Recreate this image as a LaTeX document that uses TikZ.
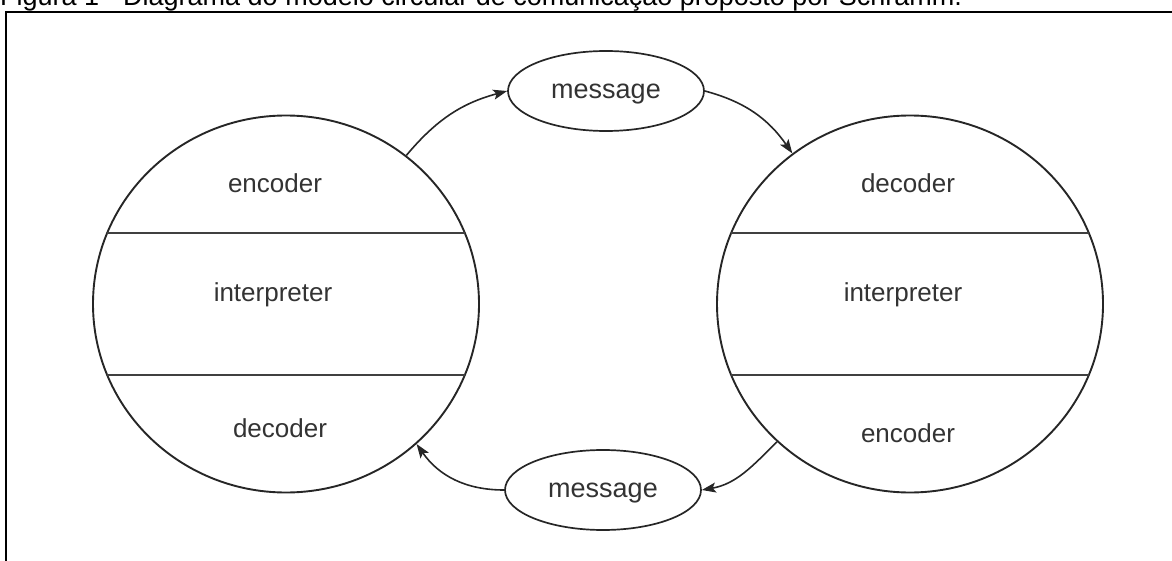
\documentclass[tikz,border=0pt]{standalone}
\usepackage{fontspec}
\setmainfont{Liberation Sans}
\usetikzlibrary{arrows.meta,shapes.geometric,calc}

\begin{document}
\begin{tikzpicture}[x=1pt,y=1pt,
  party/.style={draw=black!85, line width=1.9pt, ellipse, minimum width=386pt, minimum height=377pt, inner sep=0pt},
  msg/.style={draw=black!85, line width=1.7pt, ellipse, minimum width=196pt, minimum height=80pt, inner sep=0pt, text depth=0pt, font=\fontsize{27}{30}\selectfont, text=black!80},
  part/.style={font=\fontsize{26}{30}\selectfont, text=black!80},
  flow/.style={draw=black!85, line width=1.6pt, -{Stealth[length=14pt,width=10pt,inset=3pt]}}]
\useasboundingbox (0,0) rectangle (1172,-561);
\node[anchor=base west, inner sep=0pt, font=\fontsize{27}{30}\selectfont] (caption) at (0,-6) {Figura 1 - Diagrama do modelo circular de comunicação proposto por Schramm.};
\draw[line width=2pt] (6,-570) -- (6,-12.5) -- (1180,-12.5);

% the two parties
\node[party] (sender) at (286,-304) {};
\node[party] (receiver) at (910,-304) {};
\foreach \c in {sender,receiver} {
  \foreach \dy in {71,-71} {
    \draw[black!75, line width=1.6pt] ($(\c)+(-179,\dy)$) -- ($(\c)+(179,\dy)$);
  }
}
\node[part] (sendenc) at (275,-183) {encoder};
\node[part] (sendint) at (273,-295) {interpreter};
\node[part] (senddec) at (280,-428) {decoder};
\node[part] (recdec) at (908,-183) {decoder};
\node[part] (recint) at (903,-295) {interpreter};
\node[part] (recenc) at (908,-433) {encoder};

% messages
\node[msg] (msgtop) at (606,-91) {message};
\node[msg] (msgbot) at (603,-490) {message};

\draw[flow] (sender.51) to[out=50,in=195] (msgtop.west);
\draw[flow] (msgtop.east) to[out=-15,in=125] (receiver.128);
\draw[flow] (receiver.226) to[out=225,in=10] (msgbot.east);
\draw[flow] (msgbot.west) to[out=180,in=-55] (sender.-47);
\end{tikzpicture}
\end{document}
